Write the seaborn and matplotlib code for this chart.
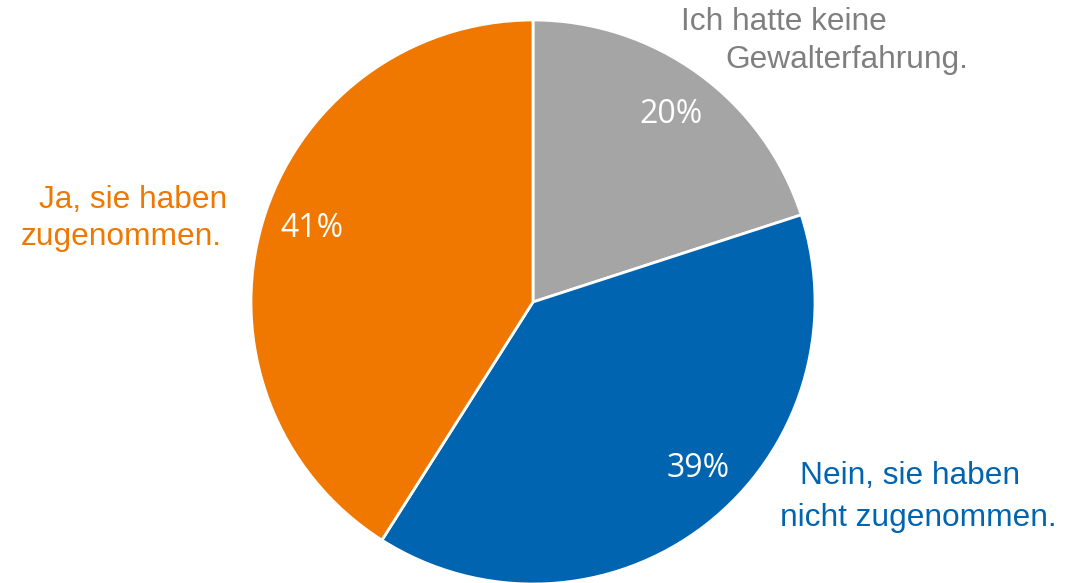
import matplotlib
matplotlib.use('Agg')
import matplotlib.pyplot as plt
import seaborn as sns

# Data
categories = ['Ich hatte keine Gewalterfahrung.', 'Nein, sie haben nicht zugenommen.', 'Ja, sie haben zugenommen.']
shares = [20, 39, 41]
label_lines = [('Ich hatte keine', 'Gewalterfahrung.'),
               ('Nein, sie haben', 'nicht zugenommen.'),
               ('Ja, sie haben', 'zugenommen.')]
wedge_colors = ['#A5A5A5', '#0064B0', '#F07800']
text_colors = ['#7F7F7F', '#0064B0', '#F07800']

sns.set_theme(style='white')
plt.rcParams['font.family'] = ['Liberation Sans', 'DejaVu Sans']

fig = plt.figure(figsize=(10.65, 5.83), dpi=100)
ax = fig.add_axes([251 / 1065, -1 / 583, 564 / 1065, 564 / 583])

wedges, texts, autotexts = ax.pie(
    shares, colors=wedge_colors, startangle=90, counterclock=False,
    autopct='%1.0f%%', pctdistance=0.83,
    wedgeprops=dict(edgecolor='white', linewidth=2),
    textprops=dict(color='white', fontsize=23, family='Open Sans'))
ax.set_xlim(-1, 1)
ax.set_ylim(-1, 1)

# percentage labels were nudged by hand in the original
pct_pos = [(0.489, 0.665), (0.585, -0.589), (-0.784, 0.259)]
for t, p in zip(autotexts, pct_pos):
    t.set_position(p)

# Category labels next to their slices, one text per line
label_pos = [((0.89, 0.993), (1.113, 0.858)),
             ((1.337, -0.617), (1.365, -0.766)),
             ((-1.418, 0.362), (-1.461, 0.230))]
for lines, pos, col in zip(label_lines, label_pos, text_colors):
    for line, (x, y) in zip(lines, pos):
        ax.text(x, y, line, color=col, fontsize=22.8, ha='center', va='center')

plt.savefig('out.png', dpi=100)
